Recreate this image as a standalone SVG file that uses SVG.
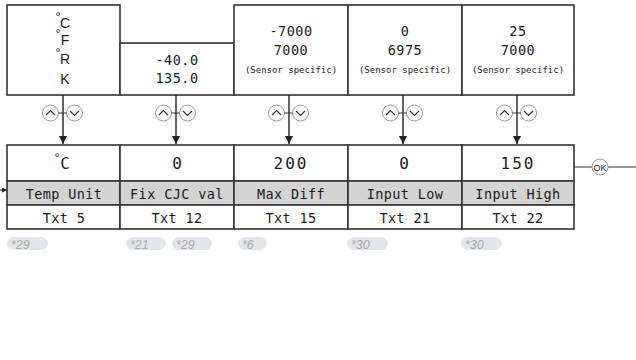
<svg xmlns="http://www.w3.org/2000/svg" width="636" height="360" viewBox="0 0 636 360">
<defs>
<style>
.box{fill:#fff;stroke:#333;stroke-width:1.6}
.gray{fill:#d3d3d3;stroke:#333;stroke-width:1.6}
.mono{font-family:"DejaVu Sans Mono","Liberation Mono",monospace;fill:#1a1a1a;text-anchor:middle}
.sans{font-family:"Liberation Sans","DejaVu Sans",sans-serif;fill:#1a1a1a;text-anchor:middle}
.v{font-size:13.5px;letter-spacing:0.5px}
.s{font-size:9px}
.big{font-size:16px;letter-spacing:2px}
.lab{font-size:13.5px;letter-spacing:0.4px}
.deg{font-family:"DejaVu Sans",sans-serif;font-size:11px;fill:#1a1a1a;text-anchor:middle}
.conn{stroke:#222;stroke-width:1.4;fill:none}
.btn{fill:#fff;stroke:#999;stroke-width:1}
.chev{fill:none;stroke:#333;stroke-width:1.2}
.pill{fill:#e3e5e8}
.fn{font-family:"Liberation Sans","DejaVu Sans",sans-serif;font-style:italic;font-size:12.5px;fill:#a9a9a9}
</style>
<marker id="ah" viewBox="0 0 10 10" refX="10" refY="5" markerWidth="8" markerHeight="8" markerUnits="userSpaceOnUse" orient="auto"><path d="M0,0 L10,5 L0,10 z" fill="#222"/></marker>
<marker id="ahs" viewBox="0 0 10 10" refX="10" refY="5" markerWidth="5" markerHeight="5" markerUnits="userSpaceOnUse" orient="auto"><path d="M0,0 L10,5 L0,10 z" fill="#222"/></marker>
<g id="btns">
<circle class="btn" cx="-12.5" cy="0" r="8"/>
<path class="chev" d="M-17,2 L-12.5,-2.5 L-8,2"/>
<circle class="btn" cx="11.5" cy="0" r="8"/>
<path class="chev" d="M7,-2 L11.5,2.5 L16,-2"/>
<line x1="-4.5" y1="0" x2="3.5" y2="0" stroke="#333" stroke-width="1"/>
</g>
</defs>
<rect width="636" height="360" fill="#fff"/>

<g id="top-unit">
<rect class="box" x="7" y="5" width="113" height="90"/>
<text class="sans" x="65" y="28" font-size="14">C</text>
<text class="deg" x="58" y="20">°</text>
<text class="sans" x="65" y="45" font-size="14">F</text>
<text class="deg" x="58" y="37">°</text>
<text class="sans" x="65" y="64" font-size="14">R</text>
<text class="deg" x="58" y="56">°</text>
<text class="sans" x="65" y="84" font-size="14">K</text>
</g>
<g id="top-cjc">
<rect class="box" x="120" y="43" width="114" height="52"/>
<text class="mono v" x="177" y="65">-40.0</text>
<text class="mono v" x="177" y="83">135.0</text>
</g>
<g id="top-maxdiff">
<rect class="box" x="234" y="5" width="114" height="90"/>
<text class="mono v" x="291" y="36">-7000</text>
<text class="mono v" x="291" y="55">7000</text>
<text class="mono s" x="291" y="73">(Sensor specific)</text>
</g>
<g id="top-inlow">
<rect class="box" x="348" y="5" width="114" height="90"/>
<text class="mono v" x="405" y="36">0</text>
<text class="mono v" x="405" y="55">6975</text>
<text class="mono s" x="405" y="73">(Sensor specific)</text>
</g>
<g id="top-inhigh">
<rect class="box" x="462" y="5" width="112" height="90"/>
<text class="mono v" x="518" y="36">25</text>
<text class="mono v" x="518" y="55">7000</text>
<text class="mono s" x="518" y="73">(Sensor specific)</text>
</g>

<g id="connectors">
<line class="conn" x1="63" y1="95" x2="63" y2="144" marker-end="url(#ah)"/>
<line class="conn" x1="176" y1="95" x2="176" y2="144" marker-end="url(#ah)"/>
<line class="conn" x1="289" y1="95" x2="289" y2="144" marker-end="url(#ah)"/>
<line class="conn" x1="403" y1="95" x2="403" y2="144" marker-end="url(#ah)"/>
<line class="conn" x1="517" y1="95" x2="517" y2="144" marker-end="url(#ah)"/>
<use href="#btns" x="63" y="113"/>
<use href="#btns" x="176" y="113"/>
<use href="#btns" x="289" y="113"/>
<use href="#btns" x="403" y="113"/>
<use href="#btns" x="517" y="113"/>
<line x1="0" y1="190" x2="7" y2="190" stroke="#222" stroke-width="1" marker-end="url(#ahs)"/>
<line x1="574" y1="167" x2="592" y2="167" stroke="#333" stroke-width="1"/>
<line x1="608" y1="167" x2="636" y2="167" stroke="#333" stroke-width="1"/>
<circle class="btn" cx="600" cy="167" r="8"/>
<text class="sans" x="600" y="170.5" font-size="9">OK</text>
</g>

<g id="p-tempunit">
<rect class="box" x="7" y="145" width="113" height="36"/>
<rect class="gray" x="7" y="181" width="113" height="24"/>
<rect class="box" x="7" y="205" width="113" height="24"/>
<text class="mono big" x="66" y="169">C</text>
<text class="deg" x="57" y="161">°</text>
<text class="mono lab" x="64" y="199">Temp Unit</text>
<text class="mono lab" x="64" y="223">Txt 5</text>
</g>
<g id="p-fixcjc">
<rect class="box" x="120" y="145" width="114" height="36"/>
<rect class="gray" x="120" y="181" width="114" height="24"/>
<rect class="box" x="120" y="205" width="114" height="24"/>
<text class="mono big" x="178" y="169">0</text>
<text class="mono lab" x="177" y="199">Fix CJC val</text>
<text class="mono lab" x="177" y="223">Txt 12</text>
</g>
<g id="p-maxdiff">
<rect class="box" x="234" y="145" width="114" height="36"/>
<rect class="gray" x="234" y="181" width="114" height="24"/>
<rect class="box" x="234" y="205" width="114" height="24"/>
<text class="mono big" x="291" y="169">200</text>
<text class="mono lab" x="291" y="199">Max Diff</text>
<text class="mono lab" x="291" y="223">Txt 15</text>
</g>
<g id="p-inlow">
<rect class="box" x="348" y="145" width="114" height="36"/>
<rect class="gray" x="348" y="181" width="114" height="24"/>
<rect class="box" x="348" y="205" width="114" height="24"/>
<text class="mono big" x="405" y="169">0</text>
<text class="mono lab" x="405" y="199">Input Low</text>
<text class="mono lab" x="405" y="223">Txt 21</text>
</g>
<g id="p-inhigh">
<rect class="box" x="462" y="145" width="112" height="36"/>
<rect class="gray" x="462" y="181" width="112" height="24"/>
<rect class="box" x="462" y="205" width="112" height="24"/>
<text class="mono big" x="518" y="169">150</text>
<text class="mono lab" x="518" y="199">Input High</text>
<text class="mono lab" x="518" y="223">Txt 22</text>
</g>

<g id="footnotes">
<rect class="pill" x="7" y="237" width="41" height="13" rx="6.5"/>
<text class="fn" x="11" y="248.5">*29</text>
<rect class="pill" x="126" y="237" width="40" height="13" rx="6.5"/>
<text class="fn" x="130" y="248.5">*21</text>
<rect class="pill" x="172" y="237" width="40" height="13" rx="6.5"/>
<text class="fn" x="176" y="248.5">*29</text>
<rect class="pill" x="238" y="237" width="29" height="13" rx="6.5"/>
<text class="fn" x="242" y="248.5">*6</text>
<rect class="pill" x="347" y="237" width="41" height="13" rx="6.5"/>
<text class="fn" x="351" y="248.5">*30</text>
<rect class="pill" x="461" y="237" width="41" height="13" rx="6.5"/>
<text class="fn" x="465" y="248.5">*30</text>
</g>
</svg>
